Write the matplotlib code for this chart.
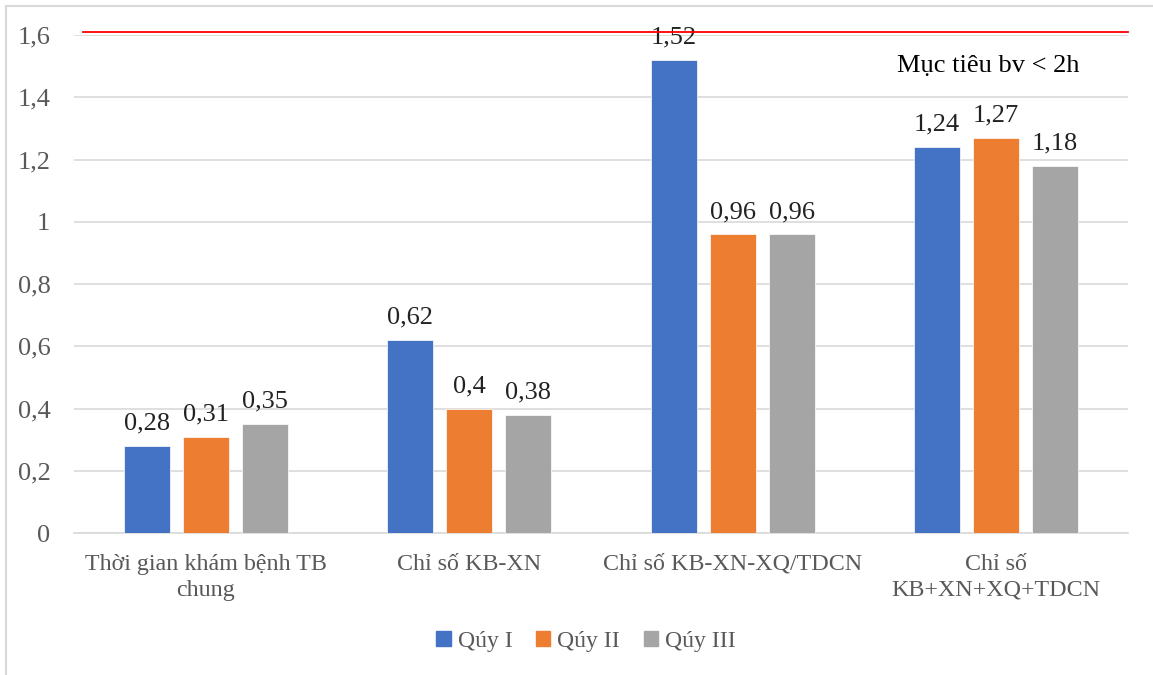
import numpy as np
import matplotlib.pyplot as plt
from matplotlib.lines import Line2D

plt.rcParams['font.family'] = ['Liberation Serif', 'DejaVu Serif']

categories = ['Thời gian khám bệnh TB\nchung', 'Chỉ số KB-XN',
              'Chỉ số KB-XN-XQ/TDCN', 'Chỉ số\nKB+XN+XQ+TDCN']
series_names = ['Qúy I', 'Qúy II', 'Qúy III']
quy1 = [0.28, 0.62, 1.52, 1.24]
quy2 = [0.31, 0.40, 0.96, 1.27]
quy3 = [0.35, 0.38, 0.96, 1.18]
target = 1.61
target_label = 'Mục tiêu bv < 2h'
yticks = [0, 0.2, 0.4, 0.6, 0.8, 1.0, 1.2, 1.4, 1.6]
ytick_labels = ['0', '0,2', '0,4', '0,6', '0,8', '1', '1,2', '1,4', '1,6']

colors = ['#4472C4', '#ED7D31', '#A5A5A5']
fs = 19

fig = plt.figure(figsize=(11.53, 6.75), dpi=100)
W, H = 1153, 675
ax = fig.add_axes([74 / W, 1 - 533 / H, (1128 - 74) / W, (533 - 35) / H])

x = np.arange(len(categories))
width = 0.175
step = 0.224
for i, (vals, name, c) in enumerate(zip([quy1, quy2, quy3], series_names, colors)):
    pos = x + (i - 1) * step
    ax.bar(pos, vals, width, color=c, label=name, edgecolor='white', linewidth=0.5, zorder=3)
    for px, v in zip(pos, vals):
        lbl = f'{v:g}'.replace('.', ',')
        ax.annotate(lbl, (px, v), xytext=(0, 8), textcoords='offset points',
                    ha='center', va='bottom', fontsize=fs, color='#222222', zorder=4)

ax.set_xlim(-0.5, len(categories) - 0.5)
ax.set_ylim(0, 1.6)
ax.set_yticks(yticks)
ax.set_yticklabels(ytick_labels)
ax.set_xticks(x)
ax.set_xticklabels(categories, linespacing=1.3)
ax.tick_params(axis='y', length=0, pad=17, labelsize=fs, labelcolor='#595959')
ax.tick_params(axis='x', length=0, pad=15, labelsize=17.3, labelcolor='#595959')
ax.grid(axis='y', color='#D9D9D9', linewidth=1.2, zorder=0)
for s in ['top', 'right', 'left']:
    ax.spines[s].set_visible(False)
ax.spines['bottom'].set_color('#D9D9D9')
ax.spines['bottom'].set_linewidth(1.2)

ax.axhline(target, xmin=9 / 1054, xmax=1, color='#FF0000', linewidth=1.3, zorder=5, clip_on=False)
ax.text(2.97, 1.5, target_label, ha='center', va='center', fontsize=fs, color='black')

handles = [plt.Rectangle((0, 0), 1, 1, color=c) for c in colors]
fig.legend(handles, series_names, loc='center', bbox_to_anchor=(586 / W, 1 - 641 / H),
           ncol=3, frameon=False, fontsize=17, labelcolor='#595959',
           handlelength=0.6, handleheight=0.6, handletextpad=0.3, columnspacing=1.0)

# chart border (left and top edges visible)
fig.add_artist(Line2D([6 / W, 6 / W], [0, 1 - 6 / H], transform=fig.transFigure,
                      color='#D9D9D9', linewidth=1.5))
fig.add_artist(Line2D([6 / W, 1], [1 - 6 / H, 1 - 6 / H], transform=fig.transFigure,
                      color='#D9D9D9', linewidth=1.5))

fig.savefig('out.png', dpi=100)
